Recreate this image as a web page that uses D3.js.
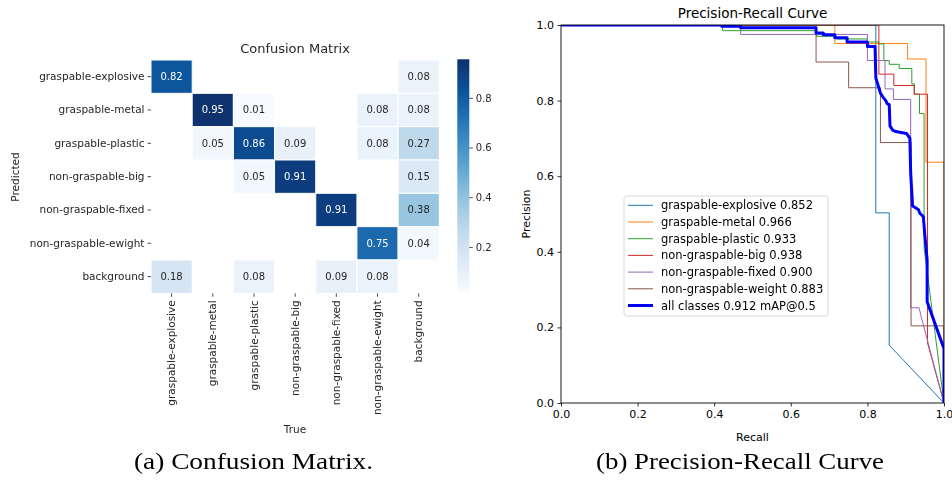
<!DOCTYPE html>
<html>
<head>
<meta charset="utf-8">
<script src="https://cdn.jsdelivr.net/npm/d3@7"></script>
<style>
  html, body { margin: 0; padding: 0; background: #fff; }
  svg { display: block; }
</style>
</head>
<body>
<svg id="fig" width="952" height="482"></svg>
<script>
// ---------- confusion matrix (rows = predicted, columns = true) ----------
const cmLabels = ["graspable-explosive", "graspable-metal", "graspable-plastic",
  "non-graspable-big", "non-graspable-fixed", "non-graspable-ewight", "background"];
const cmExplosive = [0.82, null, null, null, null, null, 0.08];
const cmMetal     = [null, 0.95, 0.01, null, null, 0.08, 0.08];
const cmPlastic   = [null, 0.05, 0.86, 0.09, null, 0.08, 0.27];
const cmBig       = [null, null, 0.05, 0.91, null, null, 0.15];
const cmFixed     = [null, null, null, null, 0.91, null, 0.38];
const cmWeight    = [null, null, null, null, null, 0.75, 0.04];
const cmBackground = [0.18, null, 0.08, null, 0.09, 0.08, null];
const cmRows = [cmExplosive, cmMetal, cmPlastic, cmBig, cmFixed, cmWeight, cmBackground];
const cmColorLimits = [0.02, 0.955];
const cmBarTicks = [0.2, 0.4, 0.6, 0.8];

// ---------- precision-recall curves: [recall, precision] ----------
const prNames = ["graspable-explosive", "graspable-metal", "graspable-plastic",
  "non-graspable-big", "non-graspable-fixed", "non-graspable-weight"];
const prAP = [0.852, 0.966, 0.933, 0.938, 0.900, 0.883];
const prColors = ["#1f77b4", "#ff7f0e", "#2ca02c", "#d62728", "#9467bd", "#8c564b"];
const prExplosive = [[0, 1], [0.822, 1], [0.822, 0.503], [0.857, 0.503], [0.857, 0.153], [1, 0]];
const prMetal = [[0, 1], [0.715, 1], [0.715, 0.951], [0.905, 0.951], [0.905, 0.910],
  [0.953, 0.910], [0.953, 0.637], [1, 0.637], [1, 0]];
const prPlastic = [[0, 1], [0.422, 1], [0.422, 0.985], [0.667, 0.985], [0.667, 0.970],
  [0.72, 0.970], [0.72, 0.963], [0.80, 0.963], [0.80, 0.955], [0.83, 0.955], [0.83, 0.95],
  [0.843, 0.95], [0.843, 0.906], [0.857, 0.906], [0.857, 0.896], [0.883, 0.896],
  [0.883, 0.885], [0.916, 0.885], [0.916, 0.844], [0.923, 0.844], [0.923, 0.817],
  [0.936, 0.817], [0.936, 0.766], [0.948, 0.766], [0.948, 0.41], [1, 0]];
const prBig = [[0, 1], [0.83, 1], [0.83, 0.870], [0.869, 0.870], [0.869, 0.840],
  [0.922, 0.840], [0.922, 0.817], [0.957, 0.817], [0.957, 0.159], [1, 0]];
const prFixed = [[0, 1], [0.469, 1], [0.469, 0.975], [0.80, 0.975], [0.80, 0.906],
  [0.846, 0.906], [0.846, 0.831], [0.868, 0.831], [0.868, 0.803], [0.913, 0.803],
  [0.913, 0.252], [0.935, 0.252], [0.94, 0.23], [1, 0]];
const prWeight = [[0, 1], [0.666, 1], [0.666, 0.902], [0.751, 0.902], [0.751, 0.834],
  [0.834, 0.834], [0.834, 0.689], [0.914, 0.689], [0.914, 0.204], [1, 0.204], [1, 0]];
const prCurves = [prExplosive, prMetal, prPlastic, prBig, prFixed, prWeight];
const prAll = [[0, 1], [0.42, 1], [0.42, 0.997], [0.469, 0.997], [0.469, 0.993],
  [0.666, 0.993], [0.666, 0.979], [0.685, 0.979], [0.685, 0.974], [0.715, 0.974],
  [0.715, 0.966], [0.747, 0.966], [0.747, 0.955], [0.80, 0.955], [0.80, 0.943],
  [0.82, 0.943], [0.822, 0.86], [0.829, 0.837], [0.834, 0.82], [0.84, 0.81],
  [0.848, 0.80], [0.852, 0.791], [0.857, 0.79], [0.859, 0.733], [0.866, 0.722],
  [0.874, 0.718], [0.902, 0.713], [0.911, 0.70], [0.913, 0.608], [0.918, 0.521],
  [0.933, 0.512], [0.937, 0.502], [0.946, 0.493], [0.95, 0.444], [0.956, 0.378],
  [0.956, 0.268], [0.998, 0.149], [1, 0.145], [1, 0]];
const prAllMAP = 0.912;
const prTicks = [0, 0.2, 0.4, 0.6, 0.8, 1.0];

const captions = ["(a) Confusion Matrix.", "(b) Precision-Recall Curve"];

const svg = d3.select("#fig");
const defs = svg.append("defs");
const SANS = "DejaVu Sans, sans-serif";
const DARK = "#262626";

// the heatmap panel is a soft raster in the source figure
defs.append("filter").attr("id", "soft")
  .append("feGaussianBlur").attr("stdDeviation", 0.35);

// ======================= confusion matrix =======================
const cm = svg.append("g").attr("filter", "url(#soft)");
const cx = d3.scaleBand().domain(d3.range(cmLabels.length)).range([151, 439.3]);
const cy = d3.scaleBand().domain(d3.range(cmLabels.length)).range([60, 293.3]);
const colour = d3.scaleSequential(d3.interpolateBlues).domain(cmColorLimits).clamp(true);

const cells = [];
cmRows.forEach((row, i) => row.forEach((v, j) => { if (v !== null) cells.push({ i, j, v }); }));

cm.selectAll("rect.cell").data(cells).join("rect")
  .attr("class", "cell")
  .attr("x", d => cx(d.j)).attr("y", d => cy(d.i))
  .attr("width", cx.bandwidth()).attr("height", cy.bandwidth())
  .attr("fill", d => colour(d.v))
  .attr("stroke", "#fff").attr("stroke-width", 1);

function luminance(c) {
  const rgb = d3.rgb(c);
  const f = x => { x /= 255; return x <= 0.03928 ? x / 12.92 : Math.pow((x + 0.055) / 1.055, 2.4); };
  return 0.2126 * f(rgb.r) + 0.7152 * f(rgb.g) + 0.0722 * f(rgb.b);
}

cm.selectAll("text.ann").data(cells).join("text")
  .attr("class", "ann")
  .attr("x", d => cx(d.j) + cx.bandwidth() / 2)
  .attr("y", d => cy(d.i) + cy.bandwidth() / 2)
  .attr("text-anchor", "middle").attr("dominant-baseline", "central")
  .attr("font-family", SANS).attr("font-size", 10)
  .attr("fill", d => luminance(colour(d.v)) > 0.408 ? DARK : "#fff")
  .text(d => d3.format(".2f")(d.v));

// y axis (predicted)
const yAx = cm.append("g").attr("transform", "translate(151,0)")
  .call(d3.axisLeft(cy).tickFormat(i => cmLabels[i]).tickSize(3.5).tickPadding(3));
yAx.select(".domain").remove();
yAx.selectAll("line").attr("stroke", DARK).attr("stroke-width", 0.8);
yAx.selectAll("text").attr("font-family", SANS).attr("font-size", 10.5).attr("fill", DARK);

// x axis (true), labels rotated
const xAx = cm.append("g").attr("transform", "translate(0,293.3)")
  .call(d3.axisBottom(cx).tickFormat(i => cmLabels[i]).tickSize(3.5).tickPadding(3));
xAx.select(".domain").remove();
xAx.selectAll("line").attr("stroke", DARK).attr("stroke-width", 0.8);
xAx.selectAll("text")
  .attr("transform", "rotate(-90)")
  .attr("x", -7).attr("y", 0).attr("dy", "0.35em")
  .attr("text-anchor", "end")
  .attr("font-family", SANS).attr("font-size", 10.5).attr("fill", DARK);

cm.append("text").attr("x", 295).attr("y", 52.5).attr("text-anchor", "middle")
  .attr("font-family", SANS).attr("font-size", 13).attr("fill", DARK).text("Confusion Matrix");
cm.append("text").attr("x", 295).attr("y", 433).attr("text-anchor", "middle")
  .attr("font-family", SANS).attr("font-size", 10.5).attr("fill", DARK).text("True");
cm.append("text").attr("transform", "translate(19,177) rotate(-90)").attr("text-anchor", "middle")
  .attr("font-family", SANS).attr("font-size", 10.5).attr("fill", DARK).text("Predicted");

// colour bar
const barX = 457.3, barW = 12;
const by = d3.scaleLinear().domain(cmColorLimits).range([291.7, 59.3]);
const grad = defs.append("linearGradient")
  .attr("id", "cmGrad").attr("x1", 0).attr("y1", 1).attr("x2", 0).attr("y2", 0);
d3.range(0, 1.0001, 0.05).forEach(t => grad.append("stop")
  .attr("offset", t).attr("stop-color", d3.interpolateBlues(t)));
cm.append("rect").attr("x", barX).attr("y", by.range()[1]).attr("width", barW)
  .attr("height", by.range()[0] - by.range()[1]).attr("fill", "url(#cmGrad)");
const bAx = cm.append("g").attr("transform", `translate(${barX + barW},0)`)
  .call(d3.axisRight(by).tickValues(cmBarTicks).tickFormat(d3.format(".1f")).tickSize(3.5).tickPadding(3));
bAx.select(".domain").remove();
bAx.selectAll("line").attr("stroke", DARK).attr("stroke-width", 0.8);
bAx.selectAll("text").attr("font-family", SANS).attr("font-size", 10).attr("fill", DARK);

// ======================= precision-recall curve =======================
const pr = svg.append("g");
const L = 561, R = 944, T = 25, B = 403;
const px = d3.scaleLinear().domain([0, 1]).range([L, R]);
const py = d3.scaleLinear().domain([0, 1]).range([B, T]);
defs.append("clipPath").attr("id", "prClip")
  .append("rect").attr("x", L).attr("y", T).attr("width", R - L).attr("height", B - T);

const line = d3.line().x(d => px(d[0])).y(d => py(d[1]));
const curves = pr.append("g").attr("clip-path", "url(#prClip)");
prCurves.forEach((c, k) => curves.append("path").datum(c)
  .attr("d", line).attr("fill", "none").attr("stroke", prColors[k]).attr("stroke-width", 1));
curves.append("path").datum(prAll).attr("d", line).attr("fill", "none")
  .attr("stroke", "blue").attr("stroke-width", 3).attr("stroke-linejoin", "round");

pr.append("rect").attr("x", L).attr("y", T).attr("width", R - L).attr("height", B - T)
  .attr("fill", "none").attr("stroke", "#000").attr("stroke-width", 0.9);

const xAxPR = pr.append("g").attr("transform", `translate(0,${B})`)
  .call(d3.axisBottom(px).tickValues(prTicks).tickFormat(d3.format(".1f")).tickSize(3.5).tickPadding(3.5));
const yAxPR = pr.append("g").attr("transform", `translate(${L},0)`)
  .call(d3.axisLeft(py).tickValues(prTicks).tickFormat(d3.format(".1f")).tickSize(3.5).tickPadding(3.5));
[xAxPR, yAxPR].forEach(a => {
  a.select(".domain").remove();
  a.selectAll("line").attr("stroke", "#000").attr("stroke-width", 0.8);
  a.selectAll("text").attr("font-family", SANS).attr("font-size", 11).attr("fill", "#000");
});

pr.append("text").attr("x", (L + R) / 2).attr("y", 18).attr("text-anchor", "middle")
  .attr("font-family", SANS).attr("font-size", 13.5).attr("fill", "#000").text("Precision-Recall Curve");
pr.append("text").attr("x", (L + R) / 2).attr("y", 441).attr("text-anchor", "middle")
  .attr("font-family", SANS).attr("font-size", 11).attr("fill", "#000").text("Recall");
pr.append("text").attr("transform", `translate(530,${(T + B) / 2}) rotate(-90)`).attr("text-anchor", "middle")
  .attr("font-family", SANS).attr("font-size", 11).attr("fill", "#000").text("Precision");

// legend
const legendItems = prNames.map((n, k) => ({ label: `${n} ${prAP[k].toFixed(3)}`, color: prColors[k], w: 1 }))
  .concat([{ label: `all classes ${prAllMAP.toFixed(3)} mAP@0.5`, color: "blue", w: 3 }]);
const lg = pr.append("g");
lg.append("rect").attr("x", 624).attr("y", 196).attr("width", 204).attr("height", 120).attr("rx", 2.5)
  .attr("fill", "#fff").attr("fill-opacity", 0.8).attr("stroke", "#d6d6d6").attr("stroke-width", 1);
legendItems.forEach((it, k) => {
  const yy = 205.3 + k * 16.7;
  lg.append("line").attr("x1", 628).attr("x2", 653).attr("y1", yy).attr("y2", yy)
    .attr("stroke", it.color).attr("stroke-width", it.w);
  lg.append("text").attr("x", 661).attr("y", yy).attr("dominant-baseline", "central")
    .attr("font-family", SANS).attr("font-size", 11.5).attr("fill", "#000").text(it.label);
});

// ======================= captions =======================
const capCenters = [253.5, 740];
const capWidths = [239, 288];
captions.forEach((c, k) => svg.append("text")
  .attr("x", capCenters[k]).attr("y", 469).attr("text-anchor", "middle")
  .attr("font-family", "Liberation Serif, serif").attr("font-size", 24)
  .attr("textLength", capWidths[k]).attr("lengthAdjust", "spacingAndGlyphs")
  .attr("fill", "#000").text(c));
</script>
</body>
</html>
